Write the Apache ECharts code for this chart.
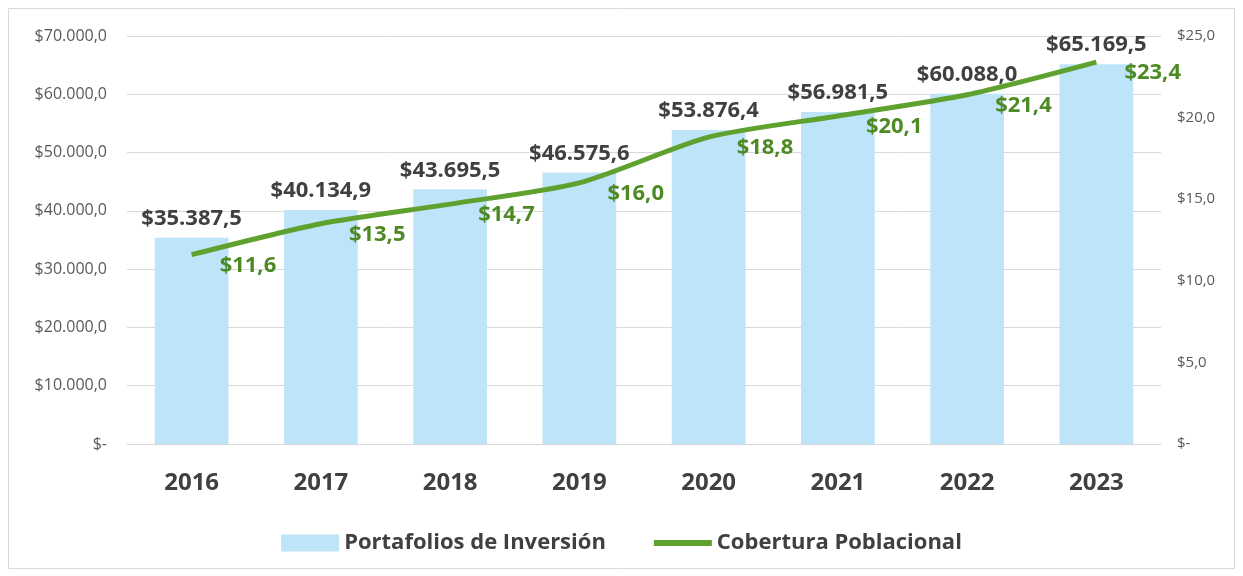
<!DOCTYPE html>
<html>
<head>
<meta charset="utf-8">
<script src="https://cdn.jsdelivr.net/npm/echarts@6/dist/echarts.min.js"></script>
<style>
  html, body { margin: 0; padding: 0; background: #fff; }
  #chart { width: 1243px; height: 576px; }
</style>
</head>
<body>
<div id="chart"></div>
<script>
// categorías (años)
const years = ['2016', '2017', '2018', '2019', '2020', '2021', '2022', '2023']
// Portafolios de Inversión (eje izquierdo)
const portafolios = [35387.5, 40134.9, 43695.5, 46575.6, 53876.4, 56981.5, 60088.0, 65169.5]
// Cobertura Poblacional (eje derecho)
const cobertura = [11.6, 13.5, 14.7, 16.0, 18.8, 20.1, 21.4, 23.4]
const seriesNames = ['Portafolios de Inversión', 'Cobertura Poblacional']

const FONT = '"Open Sans", "Noto Sans", sans-serif'

// formato tipo Excel: $65.169,5
function fmtMoney(v, dec) {
  const parts = v.toFixed(dec).split('.')
  const ent = parts[0].replace(/\B(?=(\d{3})+(?!\d))/g, '.')
  return '$' + ent + (dec ? ',' + parts[1] : '')
}

const chart = echarts.init(document.getElementById('chart'))
chart.setOption({
  backgroundColor: '#fff',
  animation: false,
  textStyle: { fontFamily: FONT },
  /* marco exterior */
  graphic: [{
    type: 'rect',
    shape: { x: 8.5, y: 8.5, width: 1226, height: 560 },
    style: { fill: 'none', stroke: '#d9d9d9', lineWidth: 1 },
    silent: true
  }],
  grid: { left: 127, right: 82, top: 36, bottom: 132 },
  legend: {
    bottom: 17,
    left: 'center',
    itemGap: 48,
    itemWidth: 58,
    itemHeight: 17,
    textStyle: { fontFamily: FONT, fontSize: 22, fontWeight: 'bold', color: '#404040' },
    data: [
      { name: seriesNames[0], icon: 'rect' },
      { name: seriesNames[1], icon: 'path://M0,0 L60,0 L60,6 L0,6 Z' }
    ]
  },
  xAxis: {
    type: 'category',
    data: years,
    axisTick: { show: false },
    axisLine: { lineStyle: { color: '#d9d9d9', width: 1 } },
    axisLabel: { fontFamily: FONT, fontSize: 24, fontWeight: 'bold', color: '#404040', margin: 27 }
  },
  yAxis: [
    {
      type: 'value',
      min: 0,
      max: 70000,
      interval: 10000,
      axisLine: { show: false },
      axisTick: { show: false },
      splitLine: { lineStyle: { color: '#d9d9d9', width: 1 } },
      axisLabel: {
        fontFamily: FONT, fontSize: 16, color: '#595959', margin: 20,
        formatter: v => v === 0 ? '$-' : fmtMoney(v, 1)
      }
    },
    {
      type: 'value',
      min: 0,
      max: 25,
      interval: 5,
      axisLine: { show: false },
      axisTick: { show: false },
      splitLine: { show: false },
      axisLabel: {
        fontFamily: FONT, fontSize: 15, color: '#595959', margin: 16,
        formatter: v => v === 0 ? '$-' : fmtMoney(v, 1)
      }
    }
  ],
  series: [
    {
      name: seriesNames[0],
      type: 'bar',
      yAxisIndex: 0,
      barWidth: '57%',
      itemStyle: { color: '#bde4f8' },
      label: {
        show: true,
        position: 'top',
        distance: 8,
        fontFamily: FONT,
        fontSize: 22,
        fontWeight: 'bold',
        color: '#404040',
        formatter: p => fmtMoney(p.value, 1)
      },
      data: portafolios
    },
    {
      name: seriesNames[1],
      type: 'line',
      yAxisIndex: 1,
      smooth: 0.25,
      symbol: 'circle',
      symbolSize: 0,
      lineStyle: { color: '#5ea12f', width: 5 },
      itemStyle: { color: '#5ea12f' },
      label: {
        show: true,
        position: 'right',
        distance: 28,
        offset: [0, 11],
        fontFamily: FONT,
        fontSize: 22,
        fontWeight: 'bold',
        color: '#4e8a24',
        formatter: p => fmtMoney(p.value, 1)
      },
      data: cobertura
    }
  ]
})
</script>
</body>
</html>
